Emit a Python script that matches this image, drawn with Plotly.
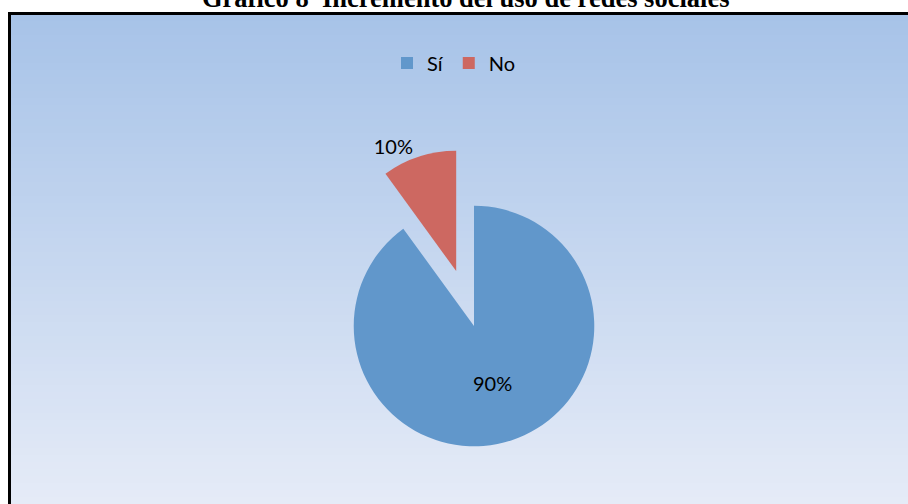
import plotly.graph_objects as go

# data
labels = ["Sí", "No"]
values = [90, 10]
slice_colors = ["#6197CB", "#CD6861"]

W, H = 908, 504
TITLE = "Gráfico 8  Incremento del uso de redes sociales"
FONT = "Lato, Open Sans, sans-serif"


def px_x(x):
    return x / W


def px_y(y):
    return 1 - y / H


def gradient_bands(top_rgb, bottom_rgb, y0, y1, x0, n=70):
    """Vertical gradient built from thin rectangles (paper coords)."""
    shapes = []
    step = (y1 - y0) / n
    for i in range(n):
        t = i / (n - 1)
        r, g, b = [round(a + (c - a) * t) for a, c in zip(top_rgb, bottom_rgb)]
        shapes.append(dict(
            type="rect", xref="paper", yref="paper", layer="below",
            x0=px_x(x0), x1=1,
            y0=px_y(y0 + step * (i + 1) + 0.5), y1=px_y(y0 + step * i),
            fillcolor=f"rgb({r},{g},{b})", line=dict(width=0),
        ))
    return shapes


shapes = gradient_bands((167, 195, 232), (229, 235, 247), 14, H, 10)
# chart frame (only left and top edges are visible in the reference)
shapes.append(dict(
    type="rect", xref="paper", yref="paper",
    x0=px_x(9.5), x1=1.02, y0=-0.02, y1=px_y(13.5),
    line=dict(color="black", width=3), fillcolor="rgba(0,0,0,0)",
))

fig = go.Figure()
fig.add_trace(go.Pie(
    labels=labels,
    values=values,
    sort=False,
    direction="clockwise",
    rotation=0,
    pull=[0, 0.48],
    marker=dict(colors=slice_colors, line=dict(width=0)),
    texttemplate="%{percent:.0%}",
    textposition=["inside", "outside"],
    textfont=dict(family=FONT, size=20, color="black"),
    insidetextfont=dict(family=FONT, size=20, color="black"),
    hoverinfo="label+percent",
    domain=dict(x=[px_x(294), px_x(654)], y=[0, px_y(148)]),
))

fig.update_layout(
    width=W,
    height=H,
    margin=dict(l=0, r=0, t=0, b=0, autoexpand=False),
    paper_bgcolor="white",
    plot_bgcolor="white",
    shapes=shapes,
    showlegend=True,
    legend=dict(
        orientation="h",
        x=px_x(454), xanchor="center",
        y=px_y(63), yanchor="middle",
        bgcolor="rgba(0,0,0,0)",
        font=dict(family=FONT, size=20, color="black"),
        itemwidth=30,
    ),
    annotations=[dict(
        text=f"<b>{TITLE}</b>",
        xref="paper", yref="paper",
        x=px_x(465), y=px_y(15),
        xanchor="center", yanchor="bottom",
        showarrow=False,
        font=dict(family="Liberation Serif, Times New Roman, serif", size=26.5, color="black"),
    )],
)

# drop the browser's default body margin so the figure fills the window exactly
fig.write_html("out.html", config={"displayModeBar": False},
               post_script="document.body.style.margin='0';")
